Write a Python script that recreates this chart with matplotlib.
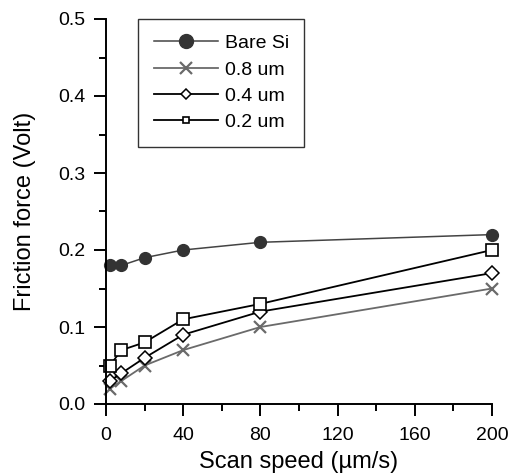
import matplotlib
matplotlib.use("Agg")
import matplotlib.pyplot as plt
from matplotlib.ticker import MultipleLocator

plt.rcParams['font.family'] = ['Liberation Sans', 'DejaVu Sans']

# scan speed (um/s)
speed = [2, 8, 20, 40, 80, 200]
bare_si = [0.18, 0.18, 0.19, 0.20, 0.21, 0.22]
um_08 = [0.02, 0.03, 0.05, 0.07, 0.10, 0.15]
um_04 = [0.03, 0.04, 0.06, 0.09, 0.12, 0.17]
um_02 = [0.05, 0.07, 0.08, 0.11, 0.13, 0.20]

fig = plt.figure(figsize=(5.09, 4.75), dpi=100)
ax = fig.add_axes([106/509, 1 - 404/475, 386/509, 385/475])

ax.plot(speed, bare_si, color="#444444", lw=1.1, marker="o", ms=8.5,
        mfc="#333333", mec="#333333", label="Bare Si", clip_on=False)
ax.plot(speed, um_08, color="#6a6a6a", lw=1.3, marker="x", ms=8.5, mew=1.6,
        label="0.8 um", clip_on=False)
ax.plot(speed, um_04, color="black", lw=1.3, marker="D", ms=7, mfc="white",
        mew=1.1, label="0.4 um", clip_on=False)
ax.plot(speed, um_02, color="black", lw=1.3, marker="s", ms=8, mfc="white",
        mew=1.2, label="0.2 um", clip_on=False)

ax.set_xlim(0, 200)
ax.set_ylim(0, 0.5)
ax.xaxis.set_major_locator(MultipleLocator(40))
ax.xaxis.set_minor_locator(MultipleLocator(20))
ax.yaxis.set_major_locator(MultipleLocator(0.1))
ax.yaxis.set_minor_locator(MultipleLocator(0.05))
ax.yaxis.set_major_formatter(plt.FormatStrFormatter("%.1f"))

for s in ["top", "right"]:
    ax.spines[s].set_visible(False)
for s in ["left", "bottom"]:
    ax.spines[s].set_linewidth(1.4)

ax.tick_params(which="major", direction="out", length=8.5, width=1.4,
               labelsize=14)
ax.tick_params(axis="y", which="major", pad=6)
ax.tick_params(axis="x", which="major", pad=8)
ax.tick_params(which="minor", direction="out", length=5, width=1.4)

ax.set_xlabel("Scan speed (\u00b5m/s)", fontsize=17, labelpad=5)
ax.set_ylabel("Friction force (Volt)", fontsize=17, labelpad=16)

leg = ax.legend(loc="upper left", bbox_to_anchor=(0.083, 1.0),
                borderaxespad=0, fontsize=14,
                frameon=True, fancybox=False, edgecolor="black",
                handlelength=3.3, borderpad=0.8, labelspacing=0.45,
                handletextpad=0.35)
leg.get_frame().set_linewidth(1.0)
sizes = [10, 9, 5, 5]
for h, s in zip(leg.legend_handles, sizes):
    h.set_markersize(s)

fig.savefig("out.png", dpi=100)
